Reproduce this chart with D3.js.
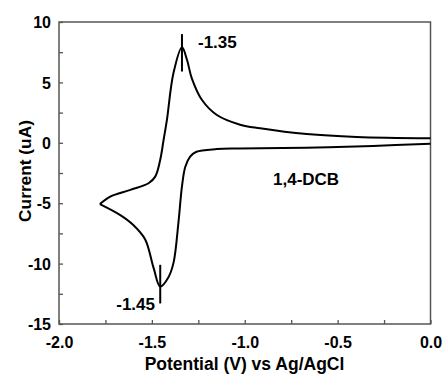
<!DOCTYPE html>
<html>
<head>
<meta charset="utf-8">
<script src="https://cdn.jsdelivr.net/npm/d3@7"></script>
<style>
  body { margin: 0; background: #fff; }
  svg text { font-family: "Liberation Sans", Arial, sans-serif; font-weight: bold; fill: #000; }
</style>
</head>
<body>
<svg id="chart" width="446" height="376"></svg>
<script>
'use strict';

// cathodic sweep, 0 V -> -1.8 V
var fwdV = [0.0, -0.31, -0.67, -1.03, -1.15, -1.26, -1.294, -1.32, -1.338, -1.357, -1.383, -1.41, -1.455, -1.49, -1.536, -1.60, -1.67, -1.78];
var fwdI = [-0.07, -0.26, -0.4, -0.47, -0.52, -0.74, -1.15, -1.98, -3.6, -6.6, -9.9, -11.1, -11.9, -10.4, -8.0, -6.8, -5.98, -5.07];
// anodic sweep, -1.8 V -> 0 V
var revV = [-1.78, -1.724, -1.616, -1.518, -1.482, -1.455, -1.437, -1.419, -1.384, -1.338, -1.311, -1.285, -1.23, -1.15, -1.025, -0.917, -0.666, -0.397, 0.0];
var revI = [-5.07, -4.45, -3.9, -3.35, -2.8, -1.4, 0.23, 1.89, 5.75, 7.9, 6.87, 5.34, 3.54, 2.3, 1.5, 1.2, 0.72, 0.48, 0.37];

var xTicks = [-2.0, -1.5, -1.0, -0.5, 0.0];
var yTicks = [-15, -10, -5, 0, 5, 10];
var xMinor = [-1.75, -1.25, -0.75, -0.25];
var yMinor = [-12.5, -7.5, -2.5, 2.5, 7.5];

// peak markers and labels
var peakV = [-1.338, -1.455];
var peakTop = [9.0, -10.1];
var peakBot = [5.9, -13.3];
var peakText = ['-1.35', '-1.45'];

var margin = {left: 59, top: 22, right: 15.5, bottom: 52};
var W = 446, H = 376;
var svg = d3.select('#chart');

var x = d3.scaleLinear().domain([-2, 0]).range([margin.left, W - margin.right]);
var y = d3.scaleLinear().domain([-15, 10]).range([H - margin.bottom, margin.top]);

var axisColor = '#555';
// plain hyphen like the original, not the unicode minus
var fmtX = function (d) { return d.toFixed(1); };
var fmtY = function (d) { return String(d); };

//frame
svg.append('rect')
  .attr('x', x(-2)).attr('y', y(10))
  .attr('width', x(0) - x(-2)).attr('height', y(-15) - y(10))
  .attr('fill', 'none').attr('stroke', axisColor).attr('stroke-width', 1.5);

//bottom axis
var gx = svg.append('g').attr('transform', 'translate(0,' + y(-15) + ')')
  .call(d3.axisBottom(x).tickValues(xTicks).tickSizeInner(-4).tickSizeOuter(0).tickFormat(fmtX));
gx.selectAll('text').attr('font-size', 16).attr('dy', null).attr('y', 24);
gx.selectAll('.domain').remove();
gx.selectAll('line').attr('stroke', axisColor).attr('stroke-width', 1.3);
svg.append('g').attr('transform', 'translate(0,' + y(-15) + ')')
  .call(d3.axisBottom(x).tickValues(xMinor).tickSizeInner(-4).tickSizeOuter(0).tickFormat(''))
  .call(function (g) {
    g.select('.domain').remove();
    g.selectAll('line').attr('stroke', axisColor).attr('stroke-width', 1.3);
  });

//left axis
var gy = svg.append('g').attr('transform', 'translate(' + x(-2) + ',0)')
  .call(d3.axisLeft(y).tickValues(yTicks).tickSizeInner(-4).tickSizeOuter(0).tickFormat(fmtY));
gy.selectAll('text').attr('font-size', 16).attr('x', -8).attr('dy', '0.36em');
gy.selectAll('.domain').remove();
gy.selectAll('line').attr('stroke', axisColor).attr('stroke-width', 1.3);
svg.append('g').attr('transform', 'translate(' + x(-2) + ',0)')
  .call(d3.axisLeft(y).tickValues(yMinor).tickSizeInner(-4).tickSizeOuter(0).tickFormat(''))
  .call(function (g) {
    g.select('.domain').remove();
    g.selectAll('line').attr('stroke', axisColor).attr('stroke-width', 1.3);
  });

// axis titles
svg.append('text')
  .attr('x', 244.5).attr('y', 370)
  .attr('text-anchor', 'middle').attr('font-size', 17.5)
  .text('Potential (V) vs Ag/AgCl');
svg.append('text')
  .attr('transform', 'translate(31,171) rotate(-90)')
  .attr('text-anchor', 'middle').attr('font-size', 17.3)
  .text('Current (uA)');

// curve
var line = d3.line()
  .x(function (d) { return x(d[0]); })
  .y(function (d) { return y(d[1]); })
  .curve(d3.curveCatmullRom.alpha(0.5));

var fwd = fwdV.map(function (v, i) { return [v, fwdI[i]]; });
var rev = revV.map(function (v, i) { return [v, revI[i]]; });

svg.append('path').datum(fwd).attr('d', line)
  .attr('fill', 'none').attr('stroke', '#000').attr('stroke-width', 2);
svg.append('path').datum(rev).attr('d', line)
  .attr('fill', 'none').attr('stroke', '#000').attr('stroke-width', 2);

// peak markers
peakV.forEach(function (v, i) {
  svg.append('line')
    .attr('x1', x(v)).attr('x2', x(v))
    .attr('y1', y(peakTop[i])).attr('y2', y(peakBot[i]))
    .attr('stroke', '#000').attr('stroke-width', 2);
});

svg.append('text').attr('x', 198).attr('y', 48).attr('font-size', 17).text(peakText[0]);
svg.append('text').attr('x', 155).attr('y', 310).attr('text-anchor', 'end').attr('font-size', 17).text(peakText[1]);
svg.append('text').attr('x', 273).attr('y', 185).attr('font-size', 17).text('1,4-DCB');
</script>
</body>
</html>
